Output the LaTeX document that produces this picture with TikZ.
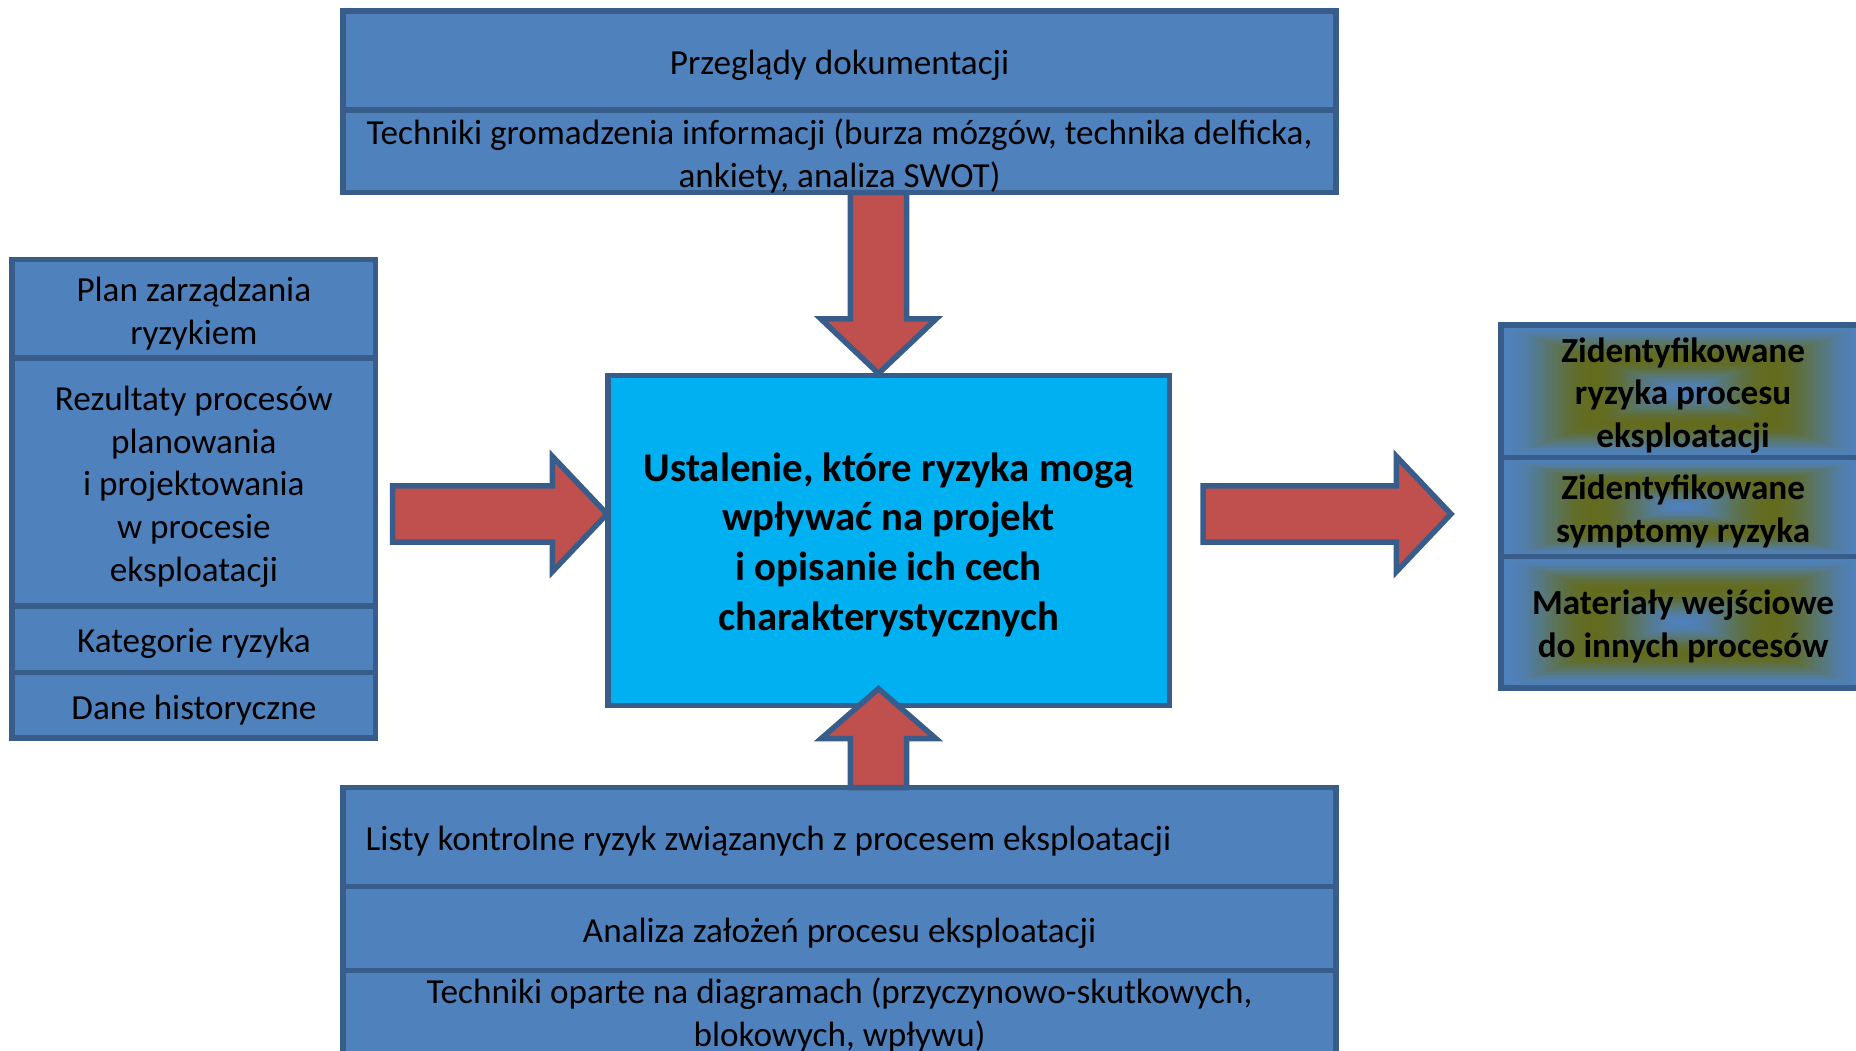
\documentclass[tikz,border=0pt]{standalone}
\usepackage{fontspec}
\setmainfont{Carlito}
\usetikzlibrary{calc}

\definecolor{boxblue}{HTML}{4F81BD}
\definecolor{edgeblue}{HTML}{385D8A}
\definecolor{coreblue}{HTML}{00B0F0}
\definecolor{arrowred}{HTML}{C0504D}
\definecolor{olivetone}{RGB}{100,106,22}

\tikzset{
  sec/.style={draw=edgeblue, fill=boxblue, line width=0.055cm, rectangle,
    inner sep=0pt, outer sep=0pt, anchor=north west},
  txt/.style={font=\fontsize{10}{12.15}\selectfont, align=center,
    inner sep=0pt, text=black},
  boldtxt/.style={font=\fontsize{10}{12.15}\selectfont\bfseries,
    align=center, inner sep=0pt, text=black},
  coretxt/.style={font=\fontsize{11.6}{14.1}\selectfont\bfseries,
    align=center, inner sep=0pt, text=black},
  edgeline/.style={draw=edgeblue, line width=0.055cm},
  blockarrow/.style={draw=edgeblue, fill=arrowred, line width=0.055cm,
    line join=miter},
}

% rectangular blue-olive-blue gradient inside a section, then its border again
\newcommand{\bandfill}[1]{%
  \foreach \i in {0,...,50}{%
    \pgfmathsetmacro{\bandmix}{95*sin(180*\i/50)^2}%
    \fill[olivetone!\bandmix!boxblue]
      ($(#1.center)!{1-\i/50}!(#1.north west)$) rectangle
      ($(#1.center)!{1-\i/50}!(#1.south east)$);}%
  \draw[edgeline] (#1.north west) rectangle (#1.south east);}

% block arrows: first argument is the shaft end, second the tip
\newcommand{\arrowright}[2]{%
  \draw[blockarrow] let \p1=(#1), \p2=(#2) in
    (\x1,\y1+0.28cm) -- (\x2-0.545cm,\y1+0.28cm) -- (\x2-0.545cm,\y1+0.575cm)
    -- (\x2,\y2) -- (\x2-0.545cm,\y1-0.575cm) -- (\x2-0.545cm,\y1-0.28cm)
    -- (\x1,\y1-0.28cm) -- cycle;}
\newcommand{\arrowdown}[2]{%
  \draw[blockarrow] let \p1=(#1), \p2=(#2) in
    (\x1-0.28cm,\y1) -- (\x1-0.28cm,\y2+0.545cm) -- (\x1-0.575cm,\y2+0.545cm)
    -- (\x2,\y2) -- (\x1+0.575cm,\y2+0.545cm) -- (\x1+0.28cm,\y2+0.545cm)
    -- (\x1+0.28cm,\y1) -- cycle;}
\newcommand{\arrowup}[2]{%
  \draw[blockarrow] let \p1=(#1), \p2=(#2) in
    (\x1-0.28cm,\y1) -- (\x1-0.28cm,\y2-0.5cm) -- (\x1-0.575cm,\y2-0.5cm)
    -- (\x2,\y2) -- (\x1+0.575cm,\y2-0.5cm) -- (\x1+0.28cm,\y2-0.5cm)
    -- (\x1+0.28cm,\y1) -- cycle;}

\begin{document}
\begin{tikzpicture}[x=0.01cm, y=-0.01cm]
\useasboundingbox (0,0) rectangle (1856,1051);
\clip (0,0) rectangle (1856,1051);

% top stack
\node[sec, minimum width=9.925cm, minimum height=0.99cm] (top1) at (343,11) {};
\node[sec, minimum width=9.925cm, minimum height=0.825cm] (top2) at (343,110) {};
\node[txt] (top1t) at ($(top1.center)+(0,4.5)$) {Przeglądy dokumentacji};
\node[txt] (top2t) at ($(top2.center)+(0,4.5)$)
  {Techniki gromadzenia informacji (burza mózgów, technika delficka,\\ankiety, analiza SWOT)};

% left stack
\node[sec, minimum width=3.635cm, minimum height=0.985cm] (left1) at (12,259.5) {};
\node[sec, minimum width=3.635cm, minimum height=2.48cm] (left2) at (12,358) {};
\node[sec, minimum width=3.635cm, minimum height=0.665cm] (left3) at (12,606) {};
\node[sec, minimum width=3.635cm, minimum height=0.655cm] (left4) at (12,672.5) {};
\node[txt] (left1t) at ($(left1.center)+(0,4.5)$) {Plan zarządzania\\ryzykiem};
\node[txt] (left2t) at ($(left2.center)+(0,4.5)$)
  {Rezultaty procesów\\planowania\\i projektowania\\w procesie\\eksploatacji};
\node[txt] (left3t) at ($(left3.center)+(0,4.5)$) {Kategorie ryzyka};
\node[txt] (left4t) at ($(left4.center)+(0,4.5)$) {Dane historyczne};

% central process
\node[sec, fill=coreblue, minimum width=5.61cm, minimum height=3.30cm] (core) at (608,375.5) {};
\node[coretxt] (coretext) at ($(core.center)+(0,4)$)
  {Ustalenie, które ryzyka mogą\\wpływać na projekt\\i opisanie ich cech\\charakterystycznych};

% right stack (outputs)
\node[sec, minimum width=3.64cm, minimum height=1.327cm] (right1) at (1501,325) {};
\node[sec, minimum width=3.64cm, minimum height=0.99cm] (right2) at (1501,457.7) {};
\node[sec, minimum width=3.64cm, minimum height=1.313cm] (right3) at (1501,556.7) {};
\bandfill{right1}
\bandfill{right2}
\bandfill{right3}
\node[boldtxt] (out1) at ($(right1.center)+(0,4)$) {Zidentyfikowane\\ryzyka procesu\\eksploatacji};
\node[boldtxt] (out2) at ($(right2.center)+(0,4)$) {Zidentyfikowane\\symptomy ryzyka};
\node[boldtxt] (out3) at ($(right3.center)+(0,4)$) {Materiały wejściowe\\do innych procesów};

% bottom stack
\node[sec, minimum width=9.925cm, minimum height=0.991cm] (bot1) at (343,787.5) {};
\node[sec, minimum width=9.925cm, minimum height=0.84cm] (bot2) at (343,886.6) {};
\node[sec, minimum width=9.925cm, minimum height=0.854cm] (bot3) at (343,970.6) {};
\node[txt, anchor=west] (bot1t) at ($(bot1.west)+(22,4.5)$)
  {Listy kontrolne ryzyk związanych z procesem eksploatacji};
\node[txt] (bot2t) at ($(bot2.center)+(0,4.5)$) {Analiza założeń procesu eksploatacji};
\node[txt] (bot3t) at ($(bot3.center)+(0,2)$)
  {Techniki oparte na diagramach (przyczynowo-skutkowych,\\blokowych, wpływu)};

% arrow anchors
\coordinate (vx) at (878.5,0);
\coordinate (hy) at (0,514);
\coordinate (dnS) at (vx |- top2.south);
\coordinate (dnT) at ($(vx |- core.north)+(0,-2)$);
\coordinate (upS) at (vx |- bot1.north);
\coordinate (upT) at ($(vx |- core.south)+(0,-17)$);
\coordinate (lS) at ($(hy -| left2.east)+(17,0)$);
\coordinate (lT) at ($(hy -| core.west)+(-1,0)$);
\coordinate (rS) at (1203,514);
\coordinate (rT) at (1451,514);

\arrowdown{dnS}{dnT}
\arrowup{upS}{upT}
\arrowright{lS}{lT}
\arrowright{rS}{rT}
\end{tikzpicture}
\end{document}
